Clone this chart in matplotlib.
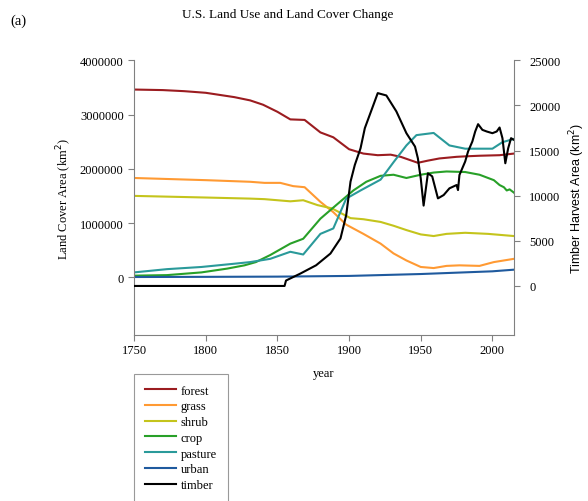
import matplotlib
matplotlib.use("Agg")
import matplotlib.pyplot as plt

# land cover area, km^2 (left axis)
forest_years = [1750, 1770, 1785, 1800, 1820, 1831, 1840, 1850, 1859, 1869, 1880, 1889,
                1900, 1910, 1920, 1929, 1936, 1948, 1955, 1963, 1975, 1982, 1991, 2005, 2015]
forest = [3.46e6, 3.45e6, 3.43e6, 3.40e6, 3.32e6, 3.26e6, 3.18e6, 3.05e6, 2.91e6, 2.90e6,
          2.67e6, 2.58e6, 2.36e6, 2.28e6, 2.25e6, 2.26e6, 2.22e6, 2.11e6, 2.15e6, 2.19e6,
          2.22e6, 2.23e6, 2.24e6, 2.25e6, 2.28e6]

grass_years = [1750, 1800, 1831, 1841, 1852, 1861, 1869, 1880, 1889, 1898, 1910, 1922,
               1931, 1940, 1950, 1959, 1968, 1977, 1991, 2001, 2015]
grass = [1.83e6, 1.79e6, 1.76e6, 1.74e6, 1.74e6, 1.68e6, 1.66e6, 1.39e6, 1.20e6, 0.97e6,
         0.80e6, 0.62e6, 0.44e6, 0.31e6, 0.19e6, 0.17e6, 0.21e6, 0.22e6, 0.21e6, 0.28e6, 0.34e6]

shrub_years = [1750, 1800, 1831, 1841, 1859, 1868, 1878, 1888, 1901, 1910, 1922, 1931,
               1940, 1950, 1959, 1968, 1981, 1997, 2015]
shrub = [1.50e6, 1.47e6, 1.45e6, 1.44e6, 1.40e6, 1.42e6, 1.33e6, 1.27e6, 1.09e6, 1.07e6,
         1.02e6, 0.95e6, 0.87e6, 0.79e6, 0.76e6, 0.80e6, 0.82e6, 0.80e6, 0.76e6]

crop_years = [1750, 1773, 1797, 1815, 1827, 1835, 1845, 1859, 1868, 1880, 1891, 1903,
              1912, 1922, 1931, 1940, 1950, 1959, 1968, 1981, 1991, 2001, 2005, 2008,
              2010, 2012, 2015]
crop = [0.03e6, 0.04e6, 0.09e6, 0.16e6, 0.22e6, 0.28e6, 0.41e6, 0.62e6, 0.71e6, 1.08e6,
        1.33e6, 1.60e6, 1.76e6, 1.87e6, 1.89e6, 1.83e6, 1.89e6, 1.93e6, 1.95e6, 1.94e6,
        1.89e6, 1.79e6, 1.70e6, 1.66e6, 1.60e6, 1.62e6, 1.56e6]

pasture_years = [1750, 1773, 1797, 1820, 1831, 1845, 1859, 1868, 1880, 1889, 1898, 1908,
                 1922, 1931, 1940, 1947, 1959, 1970, 1981, 2000, 2007, 2015]
pasture = [0.09e6, 0.15e6, 0.19e6, 0.25e6, 0.28e6, 0.34e6, 0.47e6, 0.42e6, 0.80e6, 0.90e6,
           1.45e6, 1.60e6, 1.80e6, 2.12e6, 2.43e6, 2.62e6, 2.66e6, 2.43e6, 2.37e6, 2.37e6,
           2.49e6, 2.55e6]

urban_years = [1750, 1800, 1850, 1900, 1950, 2000, 2015]
urban = [0.005e6, 0.008e6, 0.012e6, 0.025e6, 0.06e6, 0.11e6, 0.14e6]

# timber harvest area, km^2 (right axis)
timber_years = [1750, 1855, 1856, 1866, 1877, 1887, 1894, 1898, 1901, 1904, 1908, 1911,
                1917, 1920, 1926, 1933, 1940, 1946, 1948, 1950, 1952, 1955, 1958, 1962,
                1966, 1970, 1975, 1976, 1977, 1981, 1983, 1986, 1988, 1990, 1993, 1996,
                2000, 2003, 2005, 2007, 2009, 2011, 2013, 2015]
timber = [0, 0, 600, 1370, 2290, 3590, 5260, 7840, 11550, 13400, 15250, 17480,
          20060, 21360, 21100, 19330, 16920, 15440, 14140, 11920, 8900, 12480, 12140, 9700,
          10070, 10810, 11180, 10620, 12290, 13780, 14890, 16000, 17110, 17920, 17290, 17110,
          16920, 17110, 17550, 16370, 13590, 15250, 16370, 16180]

serif = "Liberation Serif"
plt.rcParams["font.family"] = serif

fig = plt.figure(figsize=(5.88, 5.02), dpi=100)
ax = fig.add_axes([0.228, 0.330, 0.646, 0.548])
ax2 = ax.twinx()

l1, = ax.plot(forest_years, forest, color="#9b1c20", lw=1.5, label="forest")
l2, = ax.plot(grass_years, grass, color="#ff9a33", lw=1.5, label="grass")
l3, = ax.plot(shrub_years, shrub, color="#c4c41c", lw=1.5, label="shrub")
l4, = ax.plot(crop_years, crop, color="#28a028", lw=1.5, label="crop")
l5, = ax.plot(pasture_years, pasture, color="#2a9a9a", lw=1.5, label="pasture")
l6, = ax.plot(urban_years, urban, color="#1f5a9e", lw=1.5, label="urban")
l7, = ax2.plot(timber_years, timber, color="black", lw=1.5, label="timber")

ax.set_xlim(1750, 2015)
ax.set_ylim(-1.07e6, 4e6)
ax.set_yticks([0, 1e6, 2e6, 3e6, 4e6])
ax.set_yticklabels(["0", "1000000", "2000000", "3000000", "4000000"])
ax.set_xticks([1750, 1800, 1850, 1900, 1950, 2000])
ax2.set_ylim(-5470, 25000)
ax2.set_yticks([0, 5000, 10000, 15000, 20000, 25000])

for a in (ax, ax2):
    a.spines["top"].set_visible(False)
    for s in ("left", "right", "bottom"):
        a.spines[s].set_color("#808080")
    a.tick_params(colors="#808080", labelcolor="black", labelsize=9, length=4, direction="out")
ax.spines["right"].set_visible(False)
ax2.spines["left"].set_visible(False)
ax2.spines["bottom"].set_visible(False)
ax.tick_params(axis="x", pad=2)
ax2.tick_params(axis="y", pad=7)

ax.set_xlabel("year", fontsize=9, labelpad=8)
ax.set_ylabel("Land Cover Area (km$^2$)", fontsize=9)
ax2.set_ylabel("Timber Harvest Area (km$^2$)", fontsize=9, family="Liberation Sans", labelpad=5)

fig.text(0.49, 0.97, "U.S. Land Use and Land Cover Change", ha="center", va="center", fontsize=9.5)
fig.text(0.017, 0.958, "(a)", ha="left", va="center", fontsize=10.5)

leg = fig.legend(handles=[l1, l2, l3, l4, l5, l6, l7], loc="upper left",
                 bbox_to_anchor=(0.228, 0.253), fontsize=9, frameon=True, fancybox=False,
                 handlelength=2.5, handletextpad=0.4, labelspacing=0.3, borderpad=0.85,
                 borderaxespad=0)
leg.get_frame().set_edgecolor("#808080")
leg.get_frame().set_linewidth(0.8)

fig.savefig("out.png", dpi=100)
